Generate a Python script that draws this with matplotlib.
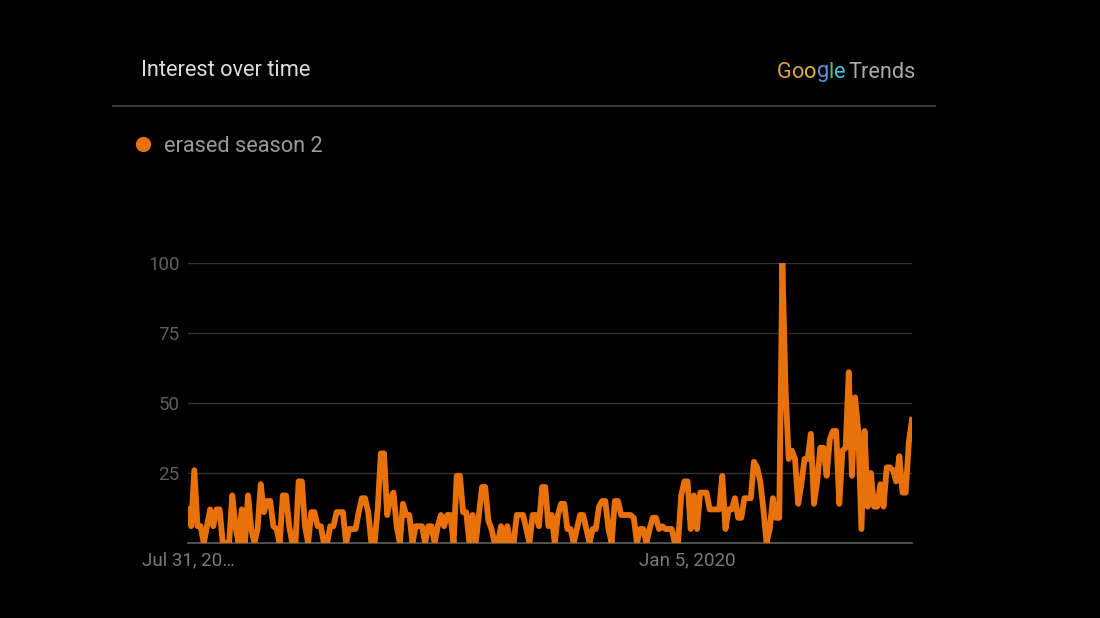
import matplotlib
matplotlib.use("Agg")
import matplotlib.pyplot as plt
import pandas as pd

# ---- data ----
start_date = "2019-07-31"
values_aug = [12, 6, 26, 6, 6, 0, 6, 12, 6, 12, 12, 0, 0, 0, 17, 6, 0, 12, 0, 17,
              5, 0, 5, 21, 11, 15, 15, 6, 5, 0, 17, 17, 6, 0, 0, 22, 22]
values_sep = [6, 0, 11, 11, 6, 6, 0, 0, 6, 6, 11, 11, 11, 0, 5, 5, 5, 11, 16, 16,
              11, 0, 0, 12, 32, 32, 10, 16, 18, 6, 0, 14, 10, 10, 0, 6, 6, 6]
values_oct = [0, 6, 6, 0, 6, 10, 6, 10, 10, 0, 24, 24, 11, 11, 0, 10, 0, 10, 20, 20,
              8, 5, 0, 0, 6, 0, 6, 0, 0, 10, 10, 10, 5, 0, 10, 10, 6, 20, 20]
values_dec = [6, 10, 0, 10, 14, 14, 5, 5, 0, 5, 10, 10, 5, 0, 5, 5, 13, 15, 15, 5,
              0, 15, 15, 10, 10, 10, 10, 9, 0, 5, 5, 0, 5, 9, 9, 5]
values_jan = [6, 5, 5, 5, 0, 0, 17, 22, 22, 5, 17, 5, 18, 18, 18, 12, 12, 12, 12, 24,
              5, 12, 12, 16, 9, 9, 16, 16, 16, 29, 27, 22, 12, 0, 5, 16, 9, 9, 100]
values_feb = [55, 30, 33, 30, 14, 21, 30, 30, 39, 14, 22, 34, 34, 24, 37, 40, 40, 14, 33, 34,
              61, 24, 52, 40, 5, 40, 13, 25, 13, 13, 21, 13, 27, 27, 26, 22, 31, 18, 18, 36, 44]
series_name = "erased season 2"
y_ticks = [25, 50, 75, 100]
x_tick_dates = ["2019-07-31", "2020-01-05"]
x_tick_labels = ["Jul 31, 20\u2026", "Jan 5, 2020"]

values = values_aug + values_sep + values_oct + values_dec + values_jan + values_feb
dates = pd.date_range(start_date, periods=len(values), freq="D")

# ---- figure ----
W, H = 1100, 618
fig = plt.figure(figsize=(W / 100, H / 100), dpi=100, facecolor="black")
FONT = ["Roboto", "DejaVu Sans"]

def fx(x):
    return x / W

def fy(y):
    return 1 - y / H

ax = fig.add_axes([fx(188), fy(543), fx(912) - fx(188), fy(263) - fy(543)])
ax.set_facecolor("black")
ax.plot(dates, values, color="#e8710a", lw=4.2, solid_joinstyle="round", zorder=3)
ax.set_xlim(dates[0], dates[-1])
ax.set_ylim(0, 100)
ax.set_yticks(y_ticks)
ax.set_yticklabels([str(v) for v in y_ticks], fontfamily=FONT, fontsize=13.5, color="#5f5f5f")
ax.set_xticks(pd.to_datetime(x_tick_dates))
ax.set_xticklabels(x_tick_labels, fontfamily=FONT, fontsize=13.5, color="#7a7a7a")
ax.tick_params(axis="both", length=0)
ax.tick_params(axis="y", pad=6)
ax.tick_params(axis="x", pad=6)
ax.grid(axis="y", color="#333333", lw=1.0, zorder=0)
ax.grid(axis="x", visible=False)
for s in ["top", "left", "right"]:
    ax.spines[s].set_visible(False)
ax.spines["bottom"].set_color("#5f5f5f")
ax.spines["bottom"].set_linewidth(1.2)

# ---- header ----
fig.text(fx(141), fy(70), "Interest over time", fontfamily=FONT, fontsize=15.7,
         color="#dcdcdc", va="center", ha="left")
fig.add_artist(plt.Line2D([fx(113), fx(935)], [fy(106), fy(106)], color="#3a3a3a", lw=1.5))

# Google Trends logo
google_letters = ["G", "o", "o", "g", "l", "e"]
google_colors = ["#d9a441", "#dca53c", "#e2b33f", "#5b8fd6", "#4cbf8a", "#4ac3d6"]
xpos = fx(777)
renderer = fig.canvas.get_renderer()
for ch, col in zip(google_letters, google_colors):
    t = fig.text(xpos, fy(72), ch, fontfamily=FONT, fontsize=15.7, color=col,
                 va="center", ha="left")
    bb = t.get_window_extent(renderer=renderer)
    xpos += bb.width / W
fig.text(xpos + fx(3), fy(72), "Trends", fontfamily=FONT, fontsize=15.7,
         color="#a8a8a8", va="center", ha="left")

# legend
fig.add_artist(plt.Line2D([fx(143)], [fy(144)], marker="o", markersize=11,
                          color="#e8710a", markeredgewidth=0))
fig.text(fx(164), fy(146), series_name, fontfamily=FONT, fontsize=15.7,
         color="#9a9a9a", va="center", ha="left")

fig.savefig("out.png", dpi=100, facecolor="black")
